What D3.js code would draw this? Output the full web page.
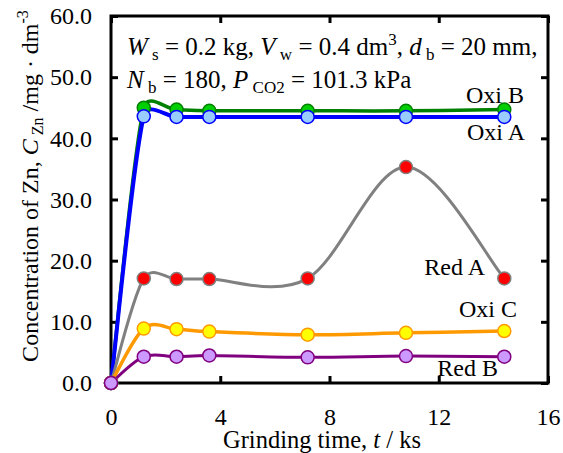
<!DOCTYPE html>
<html>
<head>
<meta charset="utf-8">
<script src="https://cdn.jsdelivr.net/npm/d3@7"></script>
<style>
  html, body { margin: 0; padding: 0; background: #fff; }
  svg { display: block; }
  text { font-family: "Liberation Serif", "Times New Roman", serif; fill: #000; }
</style>
</head>
<body>
<svg id="chart" width="563" height="453"></svg>
<script>
// ---- data ----
const times = [0, 1.2, 2.4, 3.6, 7.2, 10.8, 14.4];          // ks
const oxiB = [0, 45.0, 44.7, 44.5, 44.5, 44.5, 44.7];
const oxiA = [0, 43.6, 43.5, 43.5, 43.5, 43.5, 43.5];
const redA = [0, 17.1, 17.0, 17.0, 17.1, 35.3, 17.1];
const oxiC = [0, 8.9, 8.8, 8.4, 7.9, 8.2, 8.5];
const redB = [0, 4.3, 4.3, 4.5, 4.2, 4.4, 4.3];
const xTicks = [0, 4, 8, 12, 16];
const yTicks = [0, 10, 20, 30, 40, 50, 60];

const series = [
  {name: "Oxi B", values: oxiB, line: "#008000", fill: "#00d000", stroke: "#008000", width: 3.5, label: [524, 103]},
  {name: "Oxi A", values: oxiA, line: "#0000ff", fill: "#99ccff", stroke: "#0000ff", width: 4,   label: [525, 140]},
  {name: "Red A", values: redA, line: "#808080", fill: "#ff0000", stroke: "#808080", width: 3,   label: [485, 275]},
  {name: "Oxi C", values: oxiC, line: "#ff9900", fill: "#ffff00", stroke: "#ff9900", width: 3.5, label: [517, 317]},
  {name: "Red B", values: redB, line: "#800080", fill: "#cc99ff", stroke: "#800080", width: 3,   label: [498, 376]}
];

const svg = d3.select("#chart");
const x = d3.scaleLinear().domain([0, 16]).range([111, 548]);
const y = d3.scaleLinear().domain([0, 60]).range([383, 16]);
const FS = 24;

// axes (ticks inward)
const gx = svg.append("g").attr("transform", `translate(0,${y(0)})`)
  .call(d3.axisBottom(x).tickValues(xTicks).tickSize(-7).tickPadding(25).tickFormat(d3.format("d")));
const gxt = svg.append("g").attr("transform", `translate(0,${y(60)})`)
  .call(d3.axisTop(x).tickValues(xTicks).tickSize(-7).tickFormat(""));
const gy = svg.append("g").attr("transform", `translate(${x(0)},0)`)
  .call(d3.axisLeft(y).tickValues(yTicks).tickSize(-7).tickPadding(19).tickFormat(d3.format(".1f")));
const gyr = svg.append("g").attr("transform", `translate(${x(16)},0)`)
  .call(d3.axisRight(y).tickValues(yTicks).tickSize(-7).tickFormat(""));
[gx, gxt, gy, gyr].forEach(g => {
  g.select(".domain").remove();
  g.selectAll(".tick line").attr("stroke", "#000").attr("stroke-width", 3);
  g.selectAll(".tick text").attr("font-size", FS).attr("font-family", "Liberation Serif").attr("fill", "#000");
});

// frame
svg.append("rect").attr("x", x(0)).attr("y", y(60)).attr("width", x(16) - x(0)).attr("height", y(0) - y(60))
  .attr("fill", "none").attr("stroke", "#000").attr("stroke-width", 3);

// spreadsheet-style smoothed line: Catmull-Rom tangents (1/6), each control arm capped at half its segment
function smoothPath(vals) {
  const p = vals.map((v, i) => [x(times[i]), y(v)]);
  const n = p.length;
  const dist = (a, b) => Math.hypot(b[0] - a[0], b[1] - a[1]);
  const tan = i => {
    const a = p[Math.max(i - 1, 0)], b = p[Math.min(i + 1, n - 1)];
    return [(b[0] - a[0]) / 6, (b[1] - a[1]) / 6];
  };
  const cap = (t, len) => {
    const l = Math.hypot(t[0], t[1]);
    if (l > len && l > 0) return [t[0] * len / l, t[1] * len / l];
    return t;
  };
  const path = d3.path();
  path.moveTo(p[0][0], p[0][1]);
  for (let i = 0; i < n - 1; i++) {
    const seg = dist(p[i], p[i + 1]);
    const t0 = cap(tan(i), seg / 2), t1 = cap(tan(i + 1), seg / 2);
    path.bezierCurveTo(p[i][0] + t0[0], p[i][1] + t0[1],
                       p[i + 1][0] - t1[0], p[i + 1][1] - t1[1],
                       p[i + 1][0], p[i + 1][1]);
  }
  return path.toString();
}

series.forEach(s => {
  svg.append("path").attr("d", smoothPath(s.values)).attr("fill", "none")
    .attr("stroke", s.line).attr("stroke-width", s.width).attr("stroke-linejoin", "round");
});
series.forEach(s => {
  svg.append("g").selectAll("circle").data(s.values).join("circle")
    .attr("cx", (d, i) => x(times[i])).attr("cy", d => y(d)).attr("r", 6.5)
    .attr("fill", s.fill).attr("stroke", s.stroke).attr("stroke-width", 1.5);
});

// series labels
series.forEach(s => {
  svg.append("text").attr("x", s.label[0]).attr("y", s.label[1]).attr("text-anchor", "end")
    .attr("font-size", FS).text(s.name);
});

// rich text helper
function rich(sel, parts, fs) {
  const sub = Math.round(fs * 0.68);
  parts.forEach(p => {
    const t = sel.append("tspan").text(p.t);
    if (p.i) t.attr("font-style", "italic");
    if (p.sub) t.attr("font-size", sub).attr("dy", 5);
    else if (p.sup) t.attr("font-size", sub).attr("dy", -10);
    else t.attr("font-size", fs);
    if (p.reset) t.attr("dy", p.reset);
  });
}

// annotation
const a1 = svg.append("text").attr("x", 127).attr("y", 55);
rich(a1, [
  {t: "W", i: true}, {t: " s", sub: true}, {t: " = 0.2 kg, ", reset: -5},
  {t: "V", i: true}, {t: " w", sub: true}, {t: " = 0.4 dm", reset: -5}, {t: "3", sup: true},
  {t: ", ", reset: 10}, {t: "d", i: true}, {t: " b", sub: true}, {t: " = 20 mm,", reset: -5}
], 25);
const a2 = svg.append("text").attr("x", 127).attr("y", 88);
rich(a2, [
  {t: "N", i: true}, {t: " b", sub: true}, {t: " = 180, ", reset: -5},
  {t: "P", i: true}, {t: " CO2", sub: true}, {t: " = 101.3 kPa", reset: -5}
], 25);

// axis titles
const xt = svg.append("text").attr("x", 322).attr("y", 448).attr("text-anchor", "middle");
rich(xt, [{t: "Grinding time, "}, {t: "t", i: true}, {t: "  / ks"}], 24.5);

const yt = svg.append("text").attr("transform", "translate(38,186) rotate(-90)").attr("text-anchor", "middle");
rich(yt, [
  {t: "Concentration of Zn, "}, {t: "C", i: true}, {t: " Zn", sub: true},
  {t: " /mg · dm", reset: -5}, {t: "-3", sup: true}
], 24);
</script>
</body>
</html>
